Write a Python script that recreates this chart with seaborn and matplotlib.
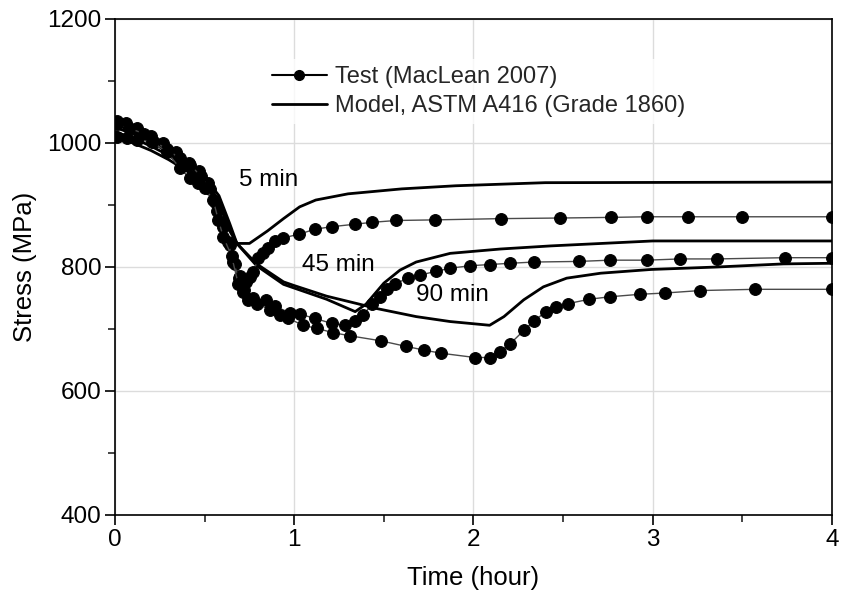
import numpy as np
import pandas as pd
import matplotlib
matplotlib.use("Agg")
import matplotlib.pyplot as plt
from matplotlib.lines import Line2D
from matplotlib.ticker import MultipleLocator
import seaborn as sns

# ---- measured relaxation tests (time in hours, stress in MPa) ----
test_5_t = [0.01, 0.06, 0.12, 0.20, 0.27, 0.34, 0.41, 0.47, 0.52, 0.56, 0.60, 0.64, 0.67, 0.70, 0.73,
            0.753, 0.772, 0.80, 0.824, 0.855, 0.893, 0.939, 1.028, 1.116, 1.209, 1.339, 1.432, 1.568,
            1.785, 2.152, 2.483, 2.767, 2.966, 3.195, 3.50, 4.00]
test_5_s = [1035, 1033, 1024, 1012, 1000, 985, 968, 955, 935, 905, 870, 835, 805, 785, 775,
            784, 792, 815, 822, 830, 842, 847, 853, 861, 865, 869, 872, 875,
            876, 878, 879, 880, 881, 881, 881, 881]

test_45_t = [0.01, 0.08, 0.16, 0.22, 0.29, 0.36, 0.42, 0.48, 0.53, 0.57, 0.60, 0.63, 0.66, 0.69, 0.72,
             0.77, 0.84, 0.89, 0.976, 1.032, 1.116, 1.209, 1.283, 1.339, 1.385, 1.432, 1.478, 1.519,
             1.562, 1.636, 1.702, 1.79, 1.869, 1.98, 2.092, 2.204, 2.339, 2.589, 2.762, 2.966, 3.152,
             3.357, 3.738, 4.00]
test_45_s = [1030, 1024, 1015, 1002, 990, 975, 965, 946, 925, 890, 865, 840, 808, 782, 763,
             750, 746, 737, 726, 724, 717, 709, 706, 713, 722, 740, 751, 764,
             773, 782, 787, 793, 798, 802, 804, 806, 808, 809, 811, 811, 813,
             813, 815, 815]

test_90_t = [0.01, 0.065, 0.121, 0.205, 0.288, 0.363, 0.418, 0.465, 0.502, 0.548, 0.576, 0.604, 0.651,
             0.688, 0.716, 0.744, 0.79, 0.865, 0.92, 0.967, 1.05, 1.125, 1.218, 1.311, 1.482, 1.623,
             1.724, 1.817, 2.008, 2.092, 2.148, 2.204, 2.282, 2.338, 2.404, 2.46, 2.529, 2.646, 2.762,
             2.929, 3.068, 3.264, 3.57, 4.00]
test_90_s = [1010, 1008, 1005, 1002, 986, 959, 943, 935, 927, 908, 876, 849, 817,
             772, 760, 747, 741, 731, 723, 717, 706, 701, 694, 689, 681, 672,
             666, 661, 654, 654, 663, 676, 698, 713, 728, 735, 741, 748, 752,
             756, 758, 762, 764, 764]

# ---- model predictions, ASTM A416 Grade 1860 ----
model_5_t = [0, 0.1, 0.2, 0.3, 0.4, 0.5, 0.58, 0.64, 0.68, 0.75, 0.85, 0.94, 1.03, 1.12, 1.3, 1.6,
             1.9, 2.4, 4.0]
model_5_s = [1025, 1015, 1003, 988, 968, 945, 915, 870, 838, 838, 858, 878, 897, 908, 918, 926,
             931, 936, 937]

model_45_t = [0, 0.1, 0.2, 0.3, 0.4, 0.5, 0.58, 0.64, 0.68, 0.79, 0.94, 1.0, 1.18, 1.34, 1.40, 1.50,
              1.59, 1.68, 1.87, 2.15, 2.43, 3.0, 4.0]
model_45_s = [1018, 1008, 995, 980, 960, 938, 908, 862, 838, 802, 772, 766, 748, 728, 740, 774,
              795, 808, 822, 829, 834, 842, 842]

model_90_t = [0, 0.1, 0.2, 0.3, 0.4, 0.5, 0.58, 0.64, 0.68, 0.79, 0.94, 1.0, 1.18, 1.35, 1.46, 1.68,
              1.87, 2.09, 2.17, 2.28, 2.39, 2.52, 2.71, 2.99, 3.36, 3.73, 4.0]
model_90_s = [1010, 1000, 988, 973, 955, 933, 904, 858, 838, 805, 776, 770, 753, 741, 733, 720,
              712, 706, 720, 747, 768, 782, 790, 796, 800, 805, 806]

hold_labels = ["5 min", "45 min", "90 min"]
label_t = [0.855, 1.244, 1.88]
label_s = [940, 803, 755]

legend_labels = ["Test (MacLean 2007)", "Model, ASTM A416 (Grade 1860)"]

sns.set_theme(style="white")
plt.rcParams["font.family"] = ["Liberation Sans", "DejaVu Sans"]

fig = plt.figure(figsize=(8.42, 6.01), dpi=100)
ax = fig.add_axes([0.1366, 0.1431, 0.8515, 0.8253])

ax.grid(True, which="major", color="#dcdcdc", linewidth=1.0)
ax.set_axisbelow(True)

for t, s in [(model_5_t, model_5_s), (model_45_t, model_45_s), (model_90_t, model_90_s)]:
    sns.lineplot(x=t, y=s, ax=ax, color="black", linewidth=2.0, sort=False,
                 estimator=None, zorder=3)

for t, s in [(test_5_t, test_5_s), (test_45_t, test_45_s), (test_90_t, test_90_s)]:
    sns.lineplot(x=t, y=s, ax=ax, color="#4a4a4a", linewidth=1.0, sort=False,
                 estimator=None, marker="o", markersize=8.5, markerfacecolor="black",
                 markeredgecolor="black", zorder=4)

for txt, t, s in zip(hold_labels, label_t, label_s):
    ax.text(t, s, txt, fontsize=17.5, ha="center", va="center", color="black", zorder=5)

ax.set_xlim(0, 4)
ax.set_ylim(400, 1200)
ax.xaxis.set_major_locator(MultipleLocator(1))
ax.xaxis.set_minor_locator(MultipleLocator(0.5))
ax.yaxis.set_major_locator(MultipleLocator(200))
ax.yaxis.set_minor_locator(MultipleLocator(100))

ax.tick_params(axis="both", which="major", direction="out", length=7, width=1.2,
               labelsize=17.5, colors="black", bottom=True, left=True, pad=3)
ax.tick_params(axis="both", which="minor", direction="out", length=5, width=1.2,
               bottom=True, left=True)

for side in ["left", "bottom", "right", "top"]:
    ax.spines[side].set_visible(True)
    ax.spines[side].set_color("black")
    ax.spines[side].set_linewidth(1.2)

ax.set_xlabel("Time (hour)", fontsize=18.5, color="black", labelpad=11)
ax.set_ylabel("Stress (MPa)", fontsize=18.5, color="black", labelpad=7)

handles = [
    Line2D([], [], color="black", linewidth=1.5, marker="o", markersize=7,
           markerfacecolor="black", markeredgecolor="black"),
    Line2D([], [], color="black", linewidth=2.0),
]
leg = ax.legend(handles, legend_labels, loc="upper left", bbox_to_anchor=(0.193, 0.943),
                fontsize=17, frameon=True, handlelength=2.3, handletextpad=0.35,
                labelspacing=0.29, borderpad=0.3, fancybox=False)
leg.get_frame().set_facecolor("white")
leg.get_frame().set_edgecolor("none")
leg.set_zorder(6)

fig.savefig("out.png", dpi=100)
